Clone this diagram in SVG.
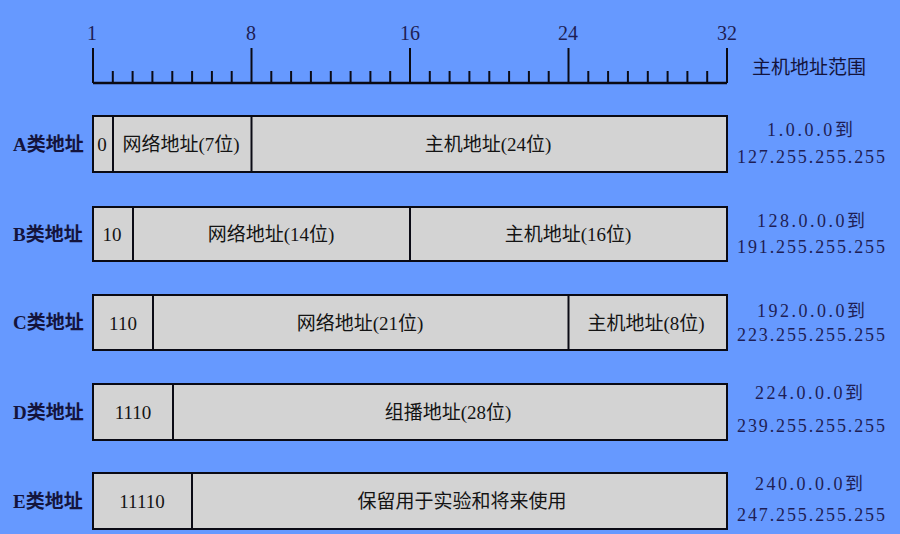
<svg xmlns="http://www.w3.org/2000/svg" width="900" height="534" viewBox="0 0 900 534">
<style>
.bg{fill:#6699FF}
.box{fill:#D3D3D3;stroke:#0a0a14;stroke-width:2}
.div{stroke:#0a0a14;stroke-width:2}
.rule{stroke:#0a0a14;stroke-width:2.5;fill:none}
.tick{stroke:#0a0a14;stroke-width:2}
.num{font-family:"Liberation Serif","Noto Sans CJK SC",serif;font-size:20px;fill:#1e1e55;text-anchor:middle}
.lab{font-family:"Liberation Serif","Noto Sans CJK SC",serif;font-size:19px;font-weight:bold;fill:#14143c}
.in{font-family:"Liberation Serif","Noto Sans CJK SC",serif;font-size:19px;fill:#141414;text-anchor:middle;dominant-baseline:central}
.rng{font-family:"Liberation Serif","Noto Sans CJK SC",serif;font-size:18px;fill:#1e1e55;text-anchor:middle;dominant-baseline:central}
.hd{font-family:"Noto Sans CJK SC",sans-serif;font-size:19px;fill:#14143c;dominant-baseline:central}
</style>
<rect class="bg" x="0" y="0" width="900" height="534"/>

<g id="ruler">
<text class="num" x="92" y="40">1</text>
<text class="num" x="251" y="40">8</text>
<text class="num" x="410" y="40">16</text>
<text class="num" x="568" y="40">24</text>
<text class="num" x="727" y="40">32</text>
<line class="rule" x1="93" y1="83" x2="727" y2="83"/>
<g class="tick">
<line x1="93" y1="48" x2="93" y2="83"/>
<line x1="251.5" y1="48" x2="251.5" y2="83"/>
<line x1="410" y1="48" x2="410" y2="83"/>
<line x1="568.5" y1="48" x2="568.5" y2="83"/>
<line x1="727" y1="48" x2="727" y2="83"/>
<line x1="112.8" y1="71" x2="112.8" y2="83"/>
<line x1="132.6" y1="71" x2="132.6" y2="83"/>
<line x1="152.4" y1="71" x2="152.4" y2="83"/>
<line x1="172.3" y1="71" x2="172.3" y2="83"/>
<line x1="192.1" y1="71" x2="192.1" y2="83"/>
<line x1="211.9" y1="71" x2="211.9" y2="83"/>
<line x1="231.7" y1="71" x2="231.7" y2="83"/>
<line x1="271.3" y1="71" x2="271.3" y2="83"/>
<line x1="291.1" y1="71" x2="291.1" y2="83"/>
<line x1="310.9" y1="71" x2="310.9" y2="83"/>
<line x1="330.8" y1="71" x2="330.8" y2="83"/>
<line x1="350.6" y1="71" x2="350.6" y2="83"/>
<line x1="370.4" y1="71" x2="370.4" y2="83"/>
<line x1="390.2" y1="71" x2="390.2" y2="83"/>
<line x1="429.8" y1="71" x2="429.8" y2="83"/>
<line x1="449.6" y1="71" x2="449.6" y2="83"/>
<line x1="469.4" y1="71" x2="469.4" y2="83"/>
<line x1="489.3" y1="71" x2="489.3" y2="83"/>
<line x1="509.1" y1="71" x2="509.1" y2="83"/>
<line x1="528.9" y1="71" x2="528.9" y2="83"/>
<line x1="548.7" y1="71" x2="548.7" y2="83"/>
<line x1="588.3" y1="71" x2="588.3" y2="83"/>
<line x1="608.1" y1="71" x2="608.1" y2="83"/>
<line x1="627.9" y1="71" x2="627.9" y2="83"/>
<line x1="647.8" y1="71" x2="647.8" y2="83"/>
<line x1="667.6" y1="71" x2="667.6" y2="83"/>
<line x1="687.4" y1="71" x2="687.4" y2="83"/>
<line x1="707.2" y1="71" x2="707.2" y2="83"/>
</g>
<text class="hd" x="752" y="65">主机地址范围</text>
</g>

<g id="classA">
<text class="lab" x="13" y="151">A类地址</text>
<rect class="box" x="93" y="116" width="634" height="56"/>
<line class="div" x1="113" y1="116" x2="113" y2="172"/>
<line class="div" x1="251.5" y1="116" x2="251.5" y2="172"/>
<text class="in" x="102" y="144">0</text>
<text class="in" x="181" y="144">网络地址(7位)</text>
<text class="in" x="488" y="144">主机地址(24位)</text>
<text class="rng" x="810" y="130" textLength="86" lengthAdjust="spacing">1.0.0.0到</text>
<text class="rng" x="811" y="157" textLength="148" lengthAdjust="spacing">127.255.255.255</text>
</g>

<g id="classB">
<text class="lab" x="13" y="241">B类地址</text>
<rect class="box" x="93" y="207" width="634" height="54"/>
<line class="div" x1="133" y1="207" x2="133" y2="261"/>
<line class="div" x1="410" y1="207" x2="410" y2="261"/>
<text class="in" x="112" y="234">10</text>
<text class="in" x="271" y="234">网络地址(14位)</text>
<text class="in" x="568" y="234">主机地址(16位)</text>
<text class="rng" x="811" y="220.5" textLength="108" lengthAdjust="spacing">128.0.0.0到</text>
<text class="rng" x="811" y="246.5" textLength="148" lengthAdjust="spacing">191.255.255.255</text>
</g>

<g id="classC">
<text class="lab" x="13" y="329">C类地址</text>
<rect class="box" x="93" y="295" width="634" height="55"/>
<line class="div" x1="153" y1="295" x2="153" y2="350"/>
<line class="div" x1="568.5" y1="295" x2="568.5" y2="350"/>
<text class="in" x="123" y="323">110</text>
<text class="in" x="360" y="323">网络地址(21位)</text>
<text class="in" x="646" y="323">主机地址(8位)</text>
<text class="rng" x="811" y="310.5" textLength="108" lengthAdjust="spacing">192.0.0.0到</text>
<text class="rng" x="811" y="335" textLength="148" lengthAdjust="spacing">223.255.255.255</text>
</g>

<g id="classD">
<text class="lab" x="13" y="419">D类地址</text>
<rect class="box" x="93" y="384" width="634" height="56"/>
<line class="div" x1="173" y1="384" x2="173" y2="440"/>
<text class="in" x="133" y="412">1110</text>
<text class="in" x="448" y="412">组播地址(28位)</text>
<text class="rng" x="809" y="393" textLength="108" lengthAdjust="spacing">224.0.0.0到</text>
<text class="rng" x="811" y="425.5" textLength="148" lengthAdjust="spacing">239.255.255.255</text>
</g>

<g id="classE">
<text class="lab" x="13" y="508">E类地址</text>
<rect class="box" x="93" y="473" width="634" height="56"/>
<line class="div" x1="192" y1="473" x2="192" y2="529"/>
<text class="in" x="142" y="501">11110</text>
<text class="in" x="462" y="501">保留用于实验和将来使用</text>
<text class="rng" x="809" y="484" textLength="108" lengthAdjust="spacing">240.0.0.0到</text>
<text class="rng" x="811" y="515" textLength="148" lengthAdjust="spacing">247.255.255.255</text>
</g>
</svg>
